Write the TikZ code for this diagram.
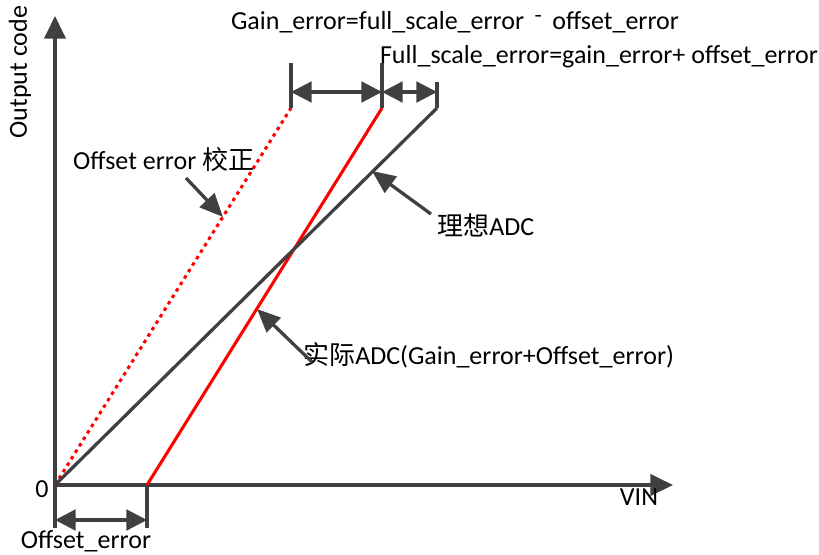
\documentclass[tikz,border=0pt]{standalone}
\usepackage{fontspec}
\setmainfont{Carlito}
\newfontfamily\cjk{Noto Sans CJK SC}
\usetikzlibrary{arrows.meta}
\definecolor{linegray}{HTML}{404040}

\begin{document}
\begin{tikzpicture}[x=0.03cm,y=-0.03cm,
		every node/.style={font=\fontsize{22.2}{24}\selectfont,inner sep=0pt},
		gline/.style={draw=linegray,line width=2.8pt},
		rline/.style={draw=red,line width=2.6pt},
		axis/.style={gline,-{Triangle[length=0.68cm,width=0.64cm]}},
		dim/.style={gline,{Triangle[length=0.62cm,width=0.62cm]}-{Triangle[length=0.62cm,width=0.62cm]}},
		pointer/.style={gline,-{Triangle[length=0.7cm,width=0.6cm]}}]
			\useasboundingbox (0,0) rectangle (819,554);
			% axes
			\coordinate (O) at (55,485);
			\coordinate (ytip) at (55,16);
			\coordinate (xtip) at (673,485);
			\draw [axis] (O) -- (ytip);
			\draw [axis] (O) -- (xtip);
			\node (zero) at (42,489) {0};
			\node (vin) at (639,497) {VIN};
			\node (ycap) at (20,72) [rotate=90] {Output code};
			% transfer lines
			\coordinate (ideal) at (437,108);
			\coordinate (real0) at (147,485);
			\coordinate (real) at (382,108);
			\coordinate (corr) at (291,108);
			\draw [red,line width=2.6pt,dash pattern=on 3pt off 3.5pt] (O) -- (corr);
			\draw [rline] (real0) -- (real);
			\draw [gline] (O) -- (ideal);
			% dimension ticks on top
			\coordinate (corrt) at (291,63);
			\coordinate (realt) at (382,63);
			\coordinate (idealt) at (437,82);
			\draw [gline] (corr) -- (corrt);
			\draw [gline] (real) -- (realt);
			\draw [gline] (ideal) -- (idealt);
			\coordinate (d1) at (291,92);
			\coordinate (d2) at (382,92);
			\coordinate (d3) at (437,92);
			\draw [dim] (d1) -- (d2);
			\draw [dim] (d2) -- (d3);
			\node (gain) at (455,22) {Gain\_error=full\_scale\_error \,\raisebox{0.5ex}{\scalebox{0.6}[1]{--}}\, offset\_error};
			\node (full) at (599,57) {Full\_scale\_error=gain\_error+ offset\_error};
			% dimension ticks at bottom
			\coordinate (ob) at (55,528);
			\coordinate (rb) at (147,528);
			\draw [gline] (O) -- (ob);
			\draw [gline] (real0) -- (rb);
			\coordinate (e1) at (55,520);
			\coordinate (e2) at (147,520);
			\draw [dim] (e1) -- (e2);
			\node (offs) at (86,541) {Offset\_error};
			% labels with pointers
			\node (corrlab) [anchor=west] at (73,160) {Offset error {\cjk 校正}};
			\coordinate (corrtip) at (223,217);
			\draw [pointer] (186,178) -- (corrtip);
			\node (ideallab) [anchor=west] at (437,225) {{\cjk 理想}ADC};
			\coordinate (idealtip) at (372,171);
			\draw [pointer] (431,214) -- (idealtip);
			\node (reallab) [anchor=west] at (303,355) {{\cjk 实际}ADC(Gain\_error+Offset\_error)};
			\coordinate (realtip) at (257,309);
			\draw [pointer] (312,362) -- (realtip);
\end{tikzpicture}
\end{document}
